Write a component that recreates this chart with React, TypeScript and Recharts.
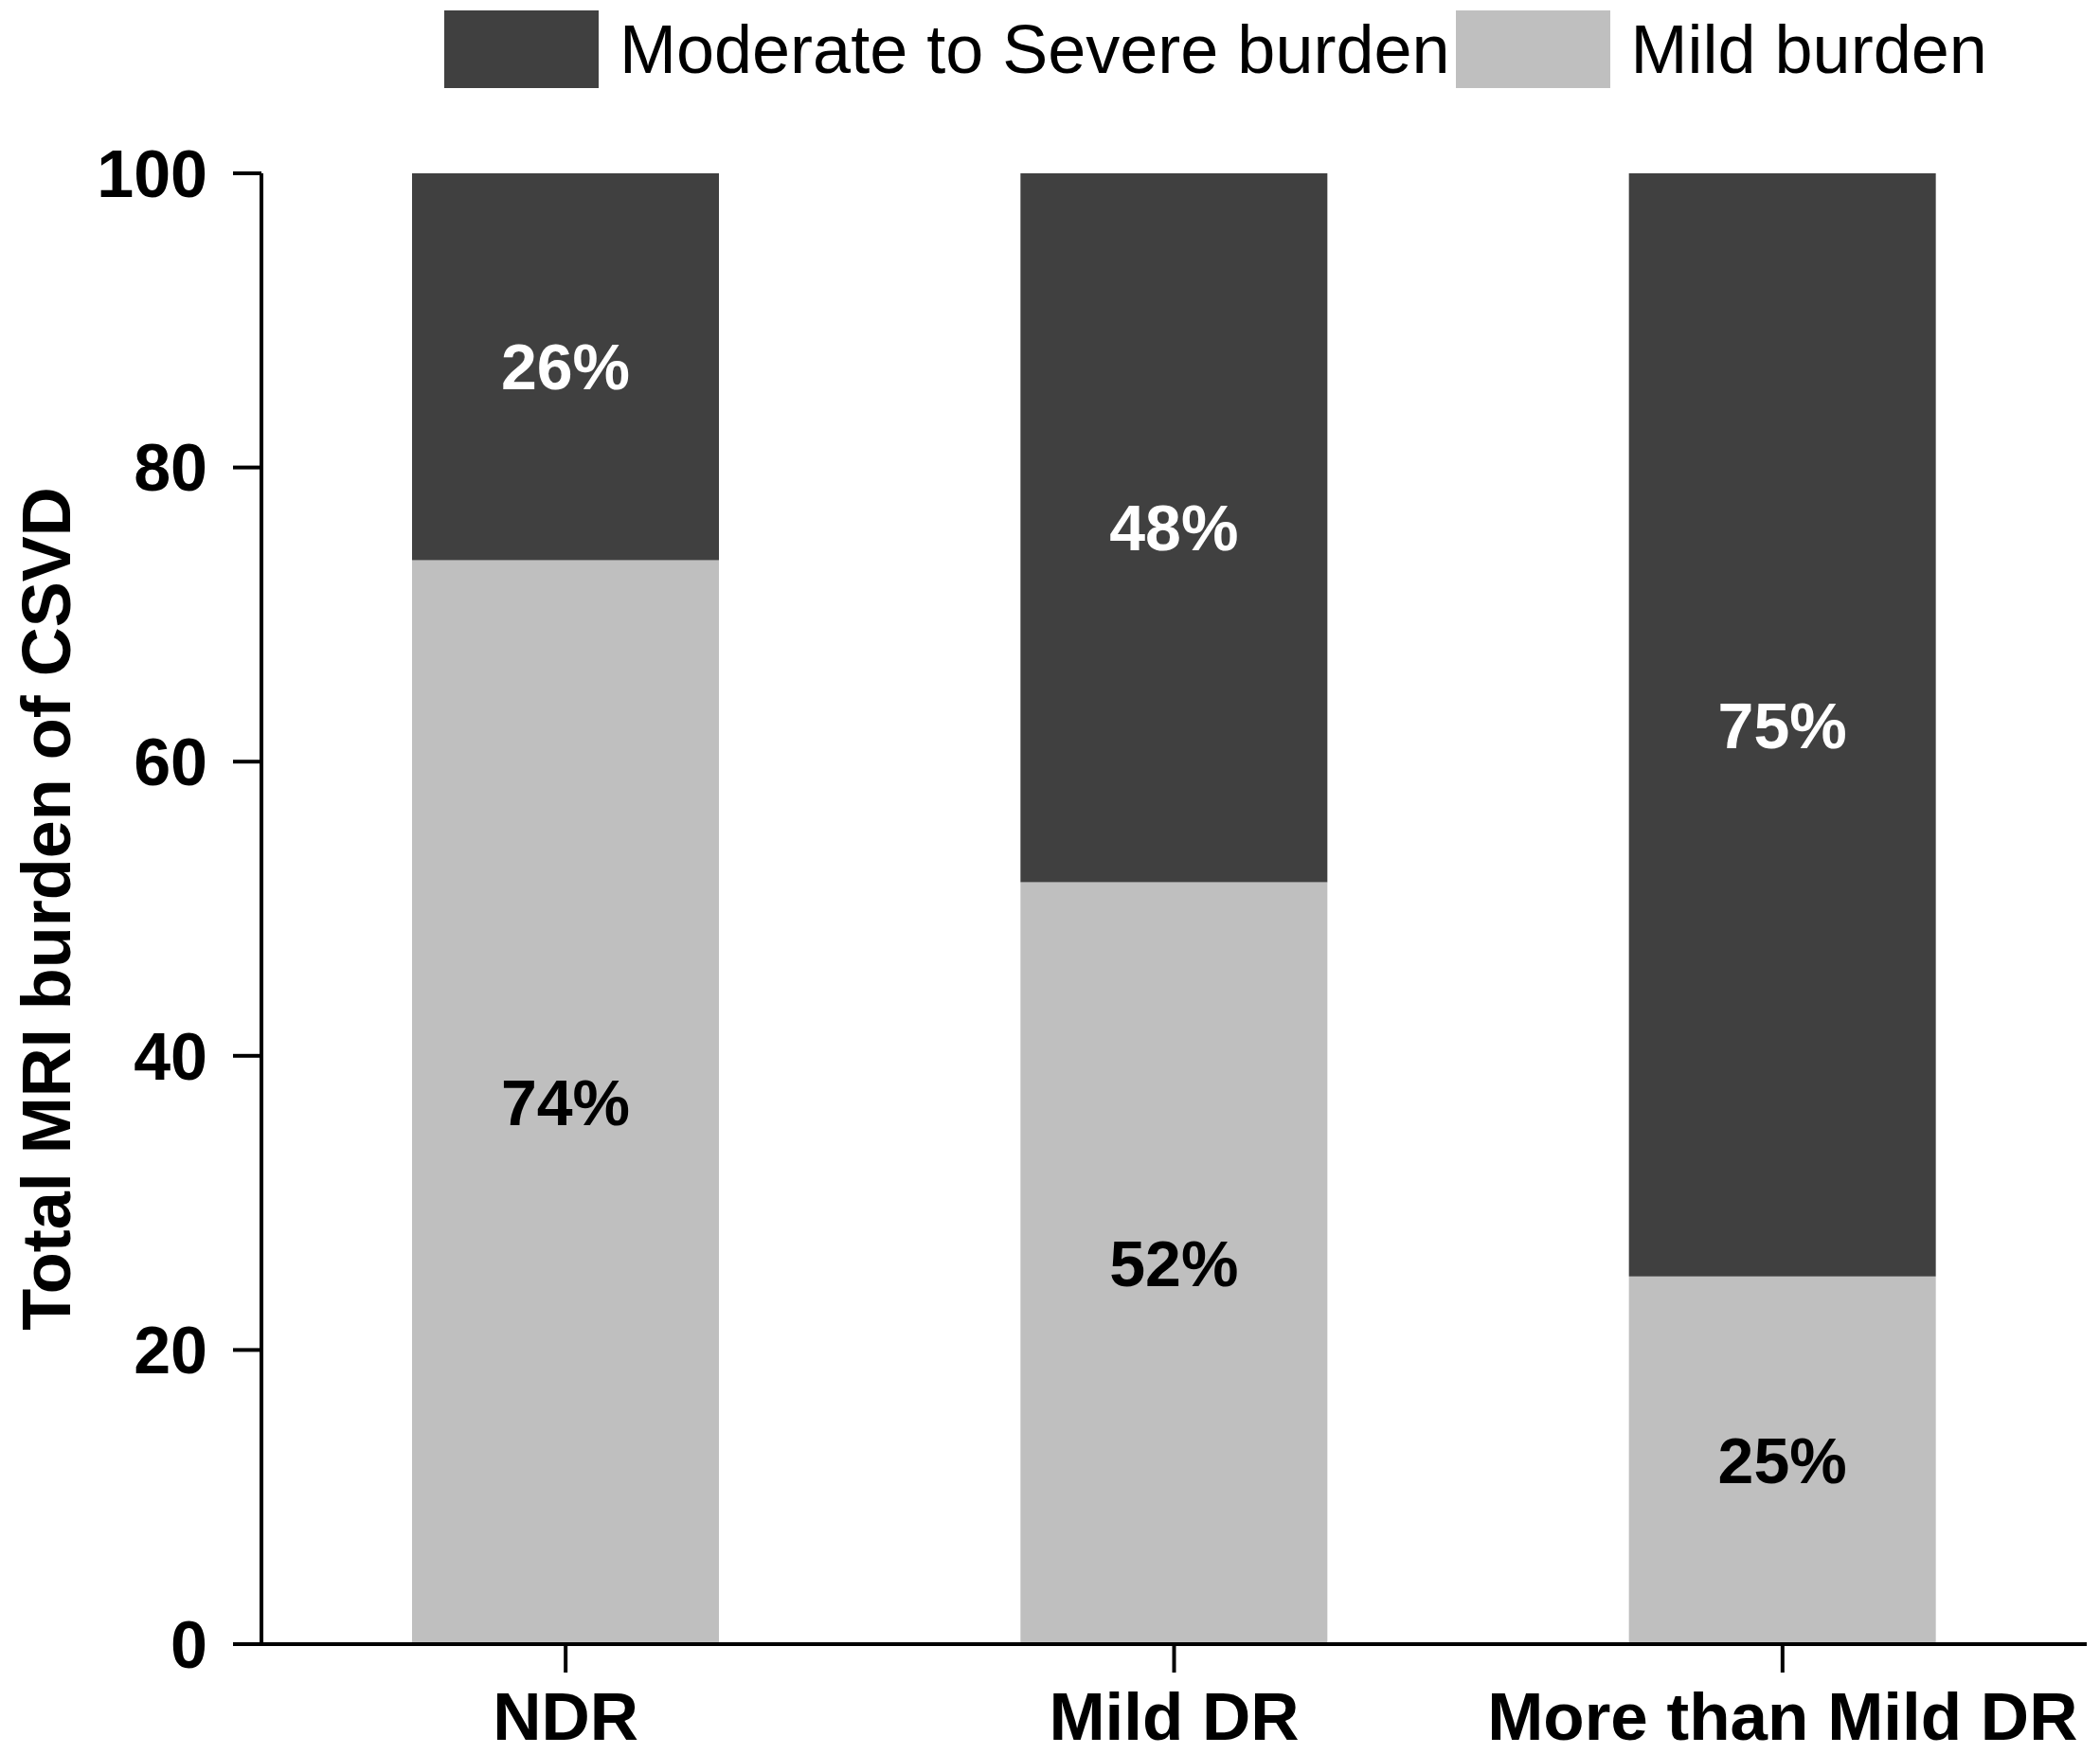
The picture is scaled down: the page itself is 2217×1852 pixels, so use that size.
import React from 'react'
import { BarChart, Bar, XAxis, YAxis, Legend, LabelList } from 'recharts'

const categories = ['NDR', 'Mild DR', 'More than Mild DR']
const mildBurden = [73.7, 51.8, 25.0]
const moderateSevereBurden = [26.3, 48.2, 75.0]
const yTicks = [0, 20, 40, 60, 80, 100]

const DARK = '#404040'
const LIGHT = '#bfbfbf'
const FONT = '"Liberation Sans", Arial, Helvetica, sans-serif'

const data = categories.map((name, i) => ({
    name,
    mild: mildBurden[i],
    moderate: moderateSevereBurden[i],
}))

// legend order in the figure: dark first, then light
const legendItems = [
    { label: 'Moderate to Severe burden', color: DARK },
    { label: 'Mild burden', color: LIGHT },
]

const pct = (v: any) => `${Math.round(Number(v))}%`

const LegendContent = () => (
    <div style={{ display: 'flex', alignItems: 'center', paddingLeft: 469, paddingTop: 11, fontFamily: FONT }}>
        {legendItems.map((item, i) => (
            <div key={item.label} style={{ display: 'flex', alignItems: 'center', marginLeft: i === 0 ? 0 : 6 }}>
                <div style={{ width: 163, height: 82, background: item.color }} />
                <span style={{ marginLeft: 22, fontSize: 72, lineHeight: '82px', color: '#000' }}>{item.label}</span>
            </div>
        ))}
    </div>
)

const YLabel = (props: any) => {
    const vb = props.viewBox || {}
    const cy = vb.y + vb.height / 2
    const cx = 49
    return (
        <text x={cx} y={cy} transform={`rotate(-90, ${cx}, ${cy})`} textAnchor="middle" dominantBaseline="central"
            fontFamily={FONT} fontWeight="bold" fontSize={72} fill="#000">
            Total MRI burden of CSVD
        </text>
    )
}

export default function App() {
    return (
        <div style={{ width: 2217, height: 1852, background: '#fff' }}>
            <style>{'body{margin:0}'}</style>
            <BarChart width={2217} height={1852} data={data}
                margin={{ top: 183, right: 14, bottom: 0, left: 0 }}
                style={{ fontFamily: FONT }}>
                <XAxis dataKey="name" interval={0} height={116}
                    tickSize={30} tickMargin={21}
                    axisLine={{ stroke: '#000', strokeWidth: 4 }}
                    tickLine={{ stroke: '#000', strokeWidth: 4 }}
                    tick={{ fill: '#000', fontSize: 71, fontWeight: 'bold', fontFamily: FONT }} />
                <YAxis type="number" domain={[0, 100]} ticks={yTicks} width={276}
                    tickSize={30} tickMargin={27}
                    axisLine={{ stroke: '#000', strokeWidth: 4 }}
                    tickLine={{ stroke: '#000', strokeWidth: 4 }}
                    tick={{ fill: '#000', fontSize: 70, fontWeight: 'bold', fontFamily: FONT }}
                    label={<YLabel />} />
                <Legend layout="horizontal" verticalAlign="middle" align="center"
                    wrapperStyle={{ top: 0, left: 0, width: 2217 }}
                    content={<LegendContent />} />
                <Bar dataKey="mild" name="Mild burden" stackId="a" fill={LIGHT} barSize={324} isAnimationActive={false}>
                    <LabelList dataKey="mild" position="center" formatter={pct}
                        fill="#000" fontSize={68} fontWeight="bold" fontFamily={FONT} />
                </Bar>
                <Bar dataKey="moderate" name="Moderate to Severe burden" stackId="a" fill={DARK} barSize={324} isAnimationActive={false}>
                    <LabelList dataKey="moderate" position="center" formatter={pct}
                        fill="#fff" fontSize={68} fontWeight="bold" fontFamily={FONT} />
                </Bar>
            </BarChart>
        </div>
    )
}
